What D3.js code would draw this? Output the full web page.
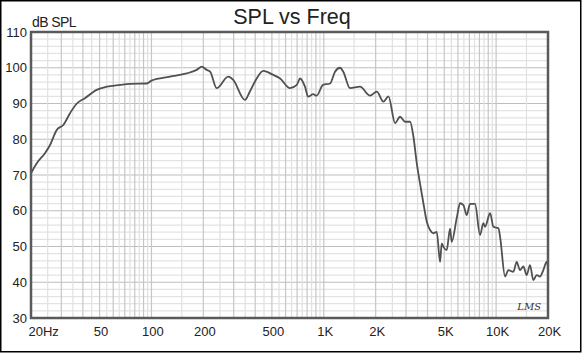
<!DOCTYPE html>
<html>
<head>
<meta charset="utf-8">
<script src="https://cdn.jsdelivr.net/npm/d3@7"></script>
<style>
  body { margin: 0; background: #fff; }
  svg { display: block; font-family: "Liberation Sans", Arial, Helvetica, sans-serif; }
</style>
</head>
<body>
<div id="chart"></div>
<script>
// frequency response
var freqs = [20, 21.6, 24.1, 25.8, 28.2, 30.8, 33.7, 36.9, 41.1, 48.1, 55, 65.7, 75.1, 93.8, 100,
  128, 160, 183, 196, 209, 219, 239, 279, 298, 349, 372, 408, 446, 509, 558, 637, 697, 729, 778,
  812, 867, 908, 990, 1087, 1162, 1242, 1297, 1420, 1623, 1855, 2030, 2217, 2373, 2593, 2771,
  2963, 3167, 3313, 3463, 3620, 3785, 3957, 4137, 4324, 4524, 4729, 4835, 4944, 5168, 5404,
  5525, 5909, 6176, 6457, 6750, 7059, 7545, 8065, 8431, 8624, 9225, 9647, 10312, 10544, 11270,
  11775, 12590, 13160, 13760, 14390, 15040, 15720, 16440, 17190, 17970, 18790, 19640, 20000];
var spl = [70.5, 73.3, 76.1, 78.4, 82.6, 84, 87.3, 90, 91.5, 93.8, 94.7, 95.2, 95.5, 95.6, 96.4,
  97.5, 98.4, 99.4, 100.3, 99.4, 98.9, 94.3, 97.5, 96.6, 91, 93.3, 97, 99.1, 98, 97, 94.3, 95.2, 97,
  94.7, 91.9, 92.6, 92.2, 95.2, 95.6, 98.9, 100, 98.9, 94.3, 94.7, 92.2, 93.3, 90.5, 92, 84.5, 86.3,
  84.9, 84.9, 80.7, 73.3, 67.5, 62.1, 57, 54.6, 53.7, 54.1, 45.7, 50.9, 49.9, 49, 55, 51.3,
  58, 62.1, 61.6, 58.8, 61.9, 61.9, 53.2, 56.5, 55.5, 59.3, 55.5, 55.1, 52.7, 41.6,
  43.4, 42.9, 45.7, 43.4, 44.4, 42, 44.8, 40.6, 42, 41.6, 43.4, 45.7, 44.4];

var xTicks = [20, 50, 100, 200, 500, 1000, 2000, 5000, 10000, 20000];
var xTickLabels = ['20Hz', '50', '100', '200', '500', '1K', '2K', '5K', '10K', '20K'];
var yTicks = [30, 40, 50, 60, 70, 80, 90, 100, 110];

var width = 583, height = 353;
var margin = {top: 32, right: 35, bottom: 35, left: 31};

var svg = d3.select('#chart').append('svg')
    .attr('width', width)
    .attr('height', height);

// outer frame
svg.append('rect')
    .attr('x', 0.75).attr('y', 0.75)
    .attr('width', 580).attr('height', 351)
    .attr('fill', '#fff')
    .attr('stroke', '#000')
    .attr('stroke-width', 1.5);

var x = d3.scaleLog()
    .domain([20, 20000])
    .range([margin.left, width - margin.right]);

var y = d3.scaleLinear()
    .domain([30, 110])
    .range([height - margin.bottom, margin.top]);

// grid
var minorX = [];
[10, 100, 1000, 10000].forEach(function(dec) {
  for (var m = 1; m < 10; m += 0.5) {
    var f = dec * m;
    if (f > 20 && f < 20000) minorX.push({f: f, whole: m % 1 === 0});
  }
});
var minorY = d3.range(32, 110, 2);

var grid = svg.append('g').attr('class', 'grid');

grid.selectAll('.hminor')
    .data(minorY)
  .enter().append('line')
    .attr('x1', x.range()[0]).attr('x2', x.range()[1])
    .attr('y1', function(d) { return y(d); })
    .attr('y2', function(d) { return y(d); })
    .attr('stroke', function(d) { return d % 10 === 0 ? '#bdbdbd' : '#e3e3e3'; })
    .attr('stroke-width', 1.2);

grid.selectAll('.vminor')
    .data(minorX)
  .enter().append('line')
    .attr('x1', function(d) { return x(d.f); })
    .attr('x2', function(d) { return x(d.f); })
    .attr('y1', y.range()[0]).attr('y2', y.range()[1])
    .attr('stroke', function(d) { return d.whole ? '#c6c6c6' : '#e0e0e0'; })
    .attr('stroke-width', 1.2);

// response curve
var data = freqs.map(function(f, i) { return {f: f, v: spl[i]}; });
var line = d3.line()
    .x(function(d) { return x(d.f); })
    .y(function(d) { return y(d.v); })
    .curve(d3.curveMonotoneX);

svg.append('path')
    .datum(data)
    .attr('fill', 'none')
    .attr('stroke', '#505050')
    .attr('stroke-width', 1.8)
    .attr('stroke-linejoin', 'round')
    .attr('d', line);

// plot frame
svg.append('rect')
    .attr('x', x.range()[0]).attr('y', y.range()[1])
    .attr('width', x.range()[1] - x.range()[0])
    .attr('height', y.range()[0] - y.range()[1])
    .attr('fill', 'none')
    .attr('stroke', '#5a5a5a')
    .attr('stroke-width', 2.5);

// axes (labels only)
var xAxis = d3.axisBottom(x)
    .tickValues(xTicks)
    .tickSize(0)
    .tickPadding(9)
    .tickFormat(function(d, i) { return xTickLabels[i]; });

var gx = svg.append('g')
    .attr('transform', 'translate(0,' + y.range()[0] + ')')
    .call(xAxis);
gx.select('.domain').remove();
gx.selectAll('text')
    .attr('font-size', 13)
    .attr('font-family', '"Liberation Sans", Arial, sans-serif')
    .attr('fill', '#222')
    .attr('dx', 1);
gx.selectAll('text').filter(function(d) { return d === 20; })
    .attr('text-anchor', 'start').attr('dx', -3);

var yAxis = d3.axisLeft(y)
    .tickValues(yTicks)
    .tickSize(0)
    .tickPadding(4);

var gy = svg.append('g')
    .attr('transform', 'translate(' + x.range()[0] + ',0)')
    .call(yAxis);
gy.select('.domain').remove();
gy.selectAll('text')
    .attr('font-size', 13)
    .attr('font-family', '"Liberation Sans", Arial, sans-serif')
    .attr('fill', '#222');

// titles
svg.append('text')
    .attr('x', 292).attr('y', 24)
    .attr('text-anchor', 'middle')
    .attr('font-size', 21.5)
    .attr('fill', '#222')
    .text('SPL vs Freq');

svg.append('text')
    .attr('x', 32).attr('y', 27)
    .attr('font-size', 14)
    .attr('letter-spacing', -0.6)
    .attr('fill', '#222')
    .text('dB SPL');

// LMS mark
svg.append('text')
    .attr('x', 541).attr('y', 310)
    .attr('text-anchor', 'end')
    .attr('font-size', 10)
    .attr('font-style', 'italic')
    .attr('font-family', '"DejaVu Serif", serif')
    .attr('fill', '#333')
    .text('LMS');
</script>
</body>
</html>
